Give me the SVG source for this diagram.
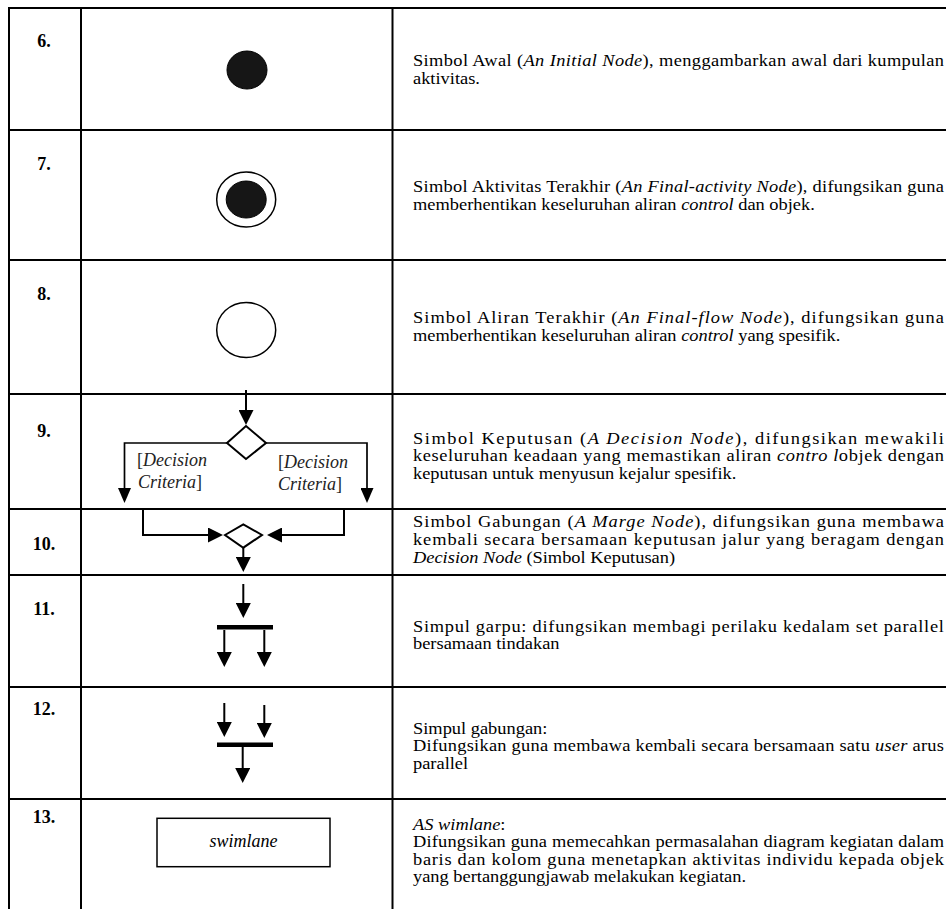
<svg xmlns="http://www.w3.org/2000/svg" width="946" height="909" viewBox="0 0 946 909">
<defs>
<style>
.grid{stroke:#000;stroke-width:2;fill:none}
.txt{font-family:"Liberation Serif","Times New Roman",serif;font-size:16px;fill:#000}
.num{font-size:18px;font-weight:bold;text-anchor:middle}
.i{font-style:italic}
.lbl{font-family:"Liberation Serif","Times New Roman",serif;font-size:18px;fill:#222}
.sw{font-family:"Liberation Serif","Times New Roman",serif;font-size:18px;font-style:italic;fill:#000;text-anchor:middle}
.ln{stroke:#000;stroke-width:2;fill:none}
.lnt{stroke:#000;stroke-width:1.7;fill:none}
.shape{stroke:#000;stroke-width:2;fill:#fff}
.solid{fill:#161616;stroke:#000;stroke-width:1}
.bar{fill:#000}
</style>
<marker id="ah" markerUnits="userSpaceOnUse" markerWidth="15" markerHeight="15" viewBox="0 0 15 15" refX="12" refY="7.5" orient="auto">
<path d="M0,0 L15,7.5 L0,15 z" fill="#000"/>
</marker>
<marker id="ahn" markerUnits="userSpaceOnUse" markerWidth="15" markerHeight="13" viewBox="0 0 15 13" refX="12" refY="6.5" orient="auto">
<path d="M0,0 L15,6.5 L0,13 z" fill="#000"/>
</marker>
</defs>
<rect width="946" height="909" fill="#fff"/>

<g id="table">
<path class="grid" d="M9,8 H946 M9,130 H946 M9,260 H946 M9,394 H946 M9,509 H946 M9,575 H946 M9,687 H946 M9,799 H946"/>
<path class="grid" d="M9,7 V909 M81,7 V909 M392.5,7 V909"/>
</g>

<g id="row6">
<text class="txt num" x="44" y="47">6.</text>
<g id="initial-node"><ellipse class="solid" cx="247" cy="70" rx="20" ry="19"/></g>
<g transform="translate(413 0) scale(1.15 1)">
<text class="txt" x="0" y="66.5" textLength="461.7" lengthAdjust="spacing">Simbol Awal (<tspan class="i">An Initial Node</tspan>), menggambarkan awal dari kumpulan</text>
<text class="txt" x="0" y="84">aktivitas.</text>
</g>
</g>

<g id="row7">
<text class="txt num" x="44" y="170">7.</text>
<g id="final-activity-node">
<ellipse cx="246.2" cy="199.5" rx="29.5" ry="27.5" fill="#fff" stroke="#000" stroke-width="1.5"/>
<ellipse class="solid" cx="246.2" cy="199.5" rx="20" ry="18.5"/>
</g>
<g transform="translate(413 0) scale(1.15 1)">
<text class="txt" x="0" y="192.5" textLength="461.7" lengthAdjust="spacing">Simbol Aktivitas Terakhir (<tspan class="i">An Final-activity Node</tspan>), difungsikan guna</text>
<text class="txt" x="0" y="210">memberhentikan keseluruhan aliran <tspan class="i">control</tspan> dan objek.</text>
</g>
</g>

<g id="row8">
<text class="txt num" x="44" y="300">8.</text>
<g id="final-flow-node"><ellipse cx="246.2" cy="330" rx="29.5" ry="27.5" fill="#fff" stroke="#000" stroke-width="1.5"/></g>
<g transform="translate(413 0) scale(1.15 1)">
<text class="txt" x="0" y="323.5" textLength="461.7" lengthAdjust="spacing">Simbol Aliran Terakhir (<tspan class="i">An Final-flow Node</tspan>), difungsikan guna</text>
<text class="txt" x="0" y="341">memberhentikan keseluruhan aliran <tspan class="i">control</tspan> yang spesifik.</text>
</g>
</g>

<g id="row9">
<text class="txt num" x="44" y="437">9.</text>
<g id="decision-node"><polygon class="shape" points="246,426 266,443 246,459 227,443"/></g>
<text class="lbl" x="137" y="466">[<tspan class="i">Decision</tspan></text>
<text class="lbl i" x="138" y="488">Criteria<tspan font-style="normal">]</tspan></text>
<text class="lbl" x="278" y="468">[<tspan class="i">Decision</tspan></text>
<text class="lbl i" x="278" y="490">Criteria<tspan font-style="normal">]</tspan></text>
<g transform="translate(413 0) scale(1.15 1)">
<text class="txt" x="0" y="444" textLength="461.7" lengthAdjust="spacing">Simbol Keputusan (<tspan class="i">A Decision Node</tspan>), difungsikan mewakili</text>
<text class="txt" x="0" y="461.5" textLength="461.7" lengthAdjust="spacing">keseluruhan keadaan yang memastikan aliran <tspan class="i">contro l</tspan>objek dengan</text>
<text class="txt" x="0" y="479">keputusan untuk menyusun kejalur spesifik.</text>
</g>
</g>

<g id="row10">
<text class="txt num" x="44" y="550">10.</text>
<g id="merge-node"><polygon class="shape" points="225,535 243.3,524.3 262,535 243.3,547.7"/></g>
<g transform="translate(413 0) scale(1.15 1)">
<text class="txt" x="0" y="527" textLength="461.7" lengthAdjust="spacing">Simbol Gabungan (<tspan class="i">A Marge Node</tspan>), difungsikan guna membawa</text>
<text class="txt" x="0" y="545" textLength="461.7" lengthAdjust="spacing">kembali secara bersamaan keputusan jalur yang beragam dengan</text>
<text class="txt" x="0" y="563"><tspan class="i">Decision Node</tspan> (Simbol Keputusan)</text>
</g>
</g>

<g id="row11">
<text class="txt num" x="44" y="615">11.</text>
<g id="fork-node"><rect class="bar" x="217" y="625" width="56" height="4.5"/></g>
<g transform="translate(413 0) scale(1.15 1)">
<text class="txt" x="0" y="632" textLength="461.7" lengthAdjust="spacing">Simpul garpu: difungsikan membagi perilaku kedalam set parallel</text>
<text class="txt" x="0" y="649.5">bersamaan tindakan</text>
</g>
</g>

<g id="row12">
<text class="txt num" x="44" y="715">12.</text>
<g id="join-node"><rect class="bar" x="217" y="742.5" width="56" height="4.5"/></g>
<g transform="translate(413 0) scale(1.15 1)">
<text class="txt" x="0" y="734">Simpul gabungan:</text>
<text class="txt" x="0" y="751.5" textLength="461.7" lengthAdjust="spacing">Difungsikan guna membawa kembali secara bersamaan satu <tspan class="i">user</tspan> arus</text>
<text class="txt" x="0" y="769">parallel</text>
</g>
</g>

<g id="row13">
<text class="txt num" x="44" y="823">13.</text>
<g id="swimlane-node">
<rect x="157" y="818.3" width="173" height="48.4" fill="#fff" stroke="#000" stroke-width="1.5"/>
<text class="sw" x="243.5" y="847">swimlane</text>
</g>
<g transform="translate(413 0) scale(1.15 1)">
<text class="txt" x="0" y="830"><tspan class="i">AS wimlane</tspan>:</text>
<text class="txt" x="0" y="847.5" textLength="461.7" lengthAdjust="spacing">Difungsikan guna memecahkan permasalahan diagram kegiatan dalam</text>
<text class="txt" x="0" y="865" textLength="461.7" lengthAdjust="spacing">baris dan kolom guna menetapkan aktivitas individu kepada objek</text>
<text class="txt" x="0" y="882.5">yang bertanggungjawab melakukan kegiatan.</text>
</g>
</g>

<g id="connectors">
<path class="ln" d="M246,390 V422" marker-end="url(#ah)"/>
<path class="lnt" d="M227,443 H124.5 V500" marker-end="url(#ahn)"/>
<path class="lnt" d="M266,443 H367 V500" marker-end="url(#ahn)"/>
<path class="ln" d="M143,509 V535 H220" marker-end="url(#ah)"/>
<path class="ln" d="M344,509 V535 H270" marker-end="url(#ah)"/>
<path class="ln" d="M243.3,548 V569" marker-end="url(#ah)"/>
<path class="ln" d="M243.3,584 V615" marker-end="url(#ah)"/>
<path class="ln" d="M224.3,630 V664" marker-end="url(#ah)"/>
<path class="ln" d="M264.3,630 V664" marker-end="url(#ah)"/>
<path class="ln" d="M224.3,703 V734" marker-end="url(#ah)"/>
<path class="ln" d="M264.3,705 V735" marker-end="url(#ah)"/>
<path class="ln" d="M242.7,747 V780" marker-end="url(#ah)"/>
</g>
</svg>
